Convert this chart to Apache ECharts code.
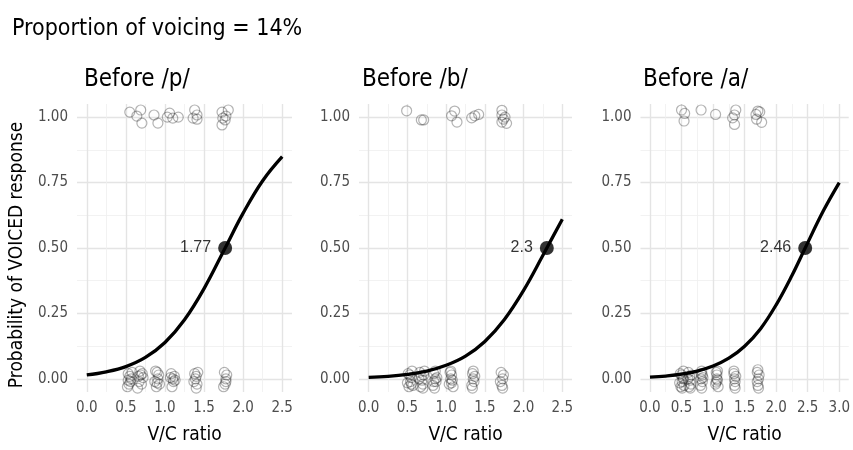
<!DOCTYPE html>
<html><head><meta charset="utf-8">
<script src="https://cdn.jsdelivr.net/npm/echarts@6/dist/echarts.min.js"></script>
<style>html,body{margin:0;padding:0;background:#fff}#c{width:853px;height:450px}</style>
</head><body><div id="c"></div>
<script>
const mainTitle = 'Proportion of voicing = 14%';
const panelTitles = ['Before /p/', 'Before /b/', 'Before /a/'];
const xAxisTitle = 'V/C ratio';
const yAxisTitle = 'Probability of VOICED response';
const xMax = [2.5, 2.5, 3.0];
const yTicks = [0, 0.25, 0.5, 0.75, 1];

const curveP = [[0,0.015],[0.25,0.027],[0.5,0.047],[0.75,0.082],[1.0,0.139],[1.25,0.226],[1.5,0.345],[1.77,0.5],[2.0,0.633],[2.25,0.757],[2.5,0.849]];
const curveB = [[0,0.006],[0.25,0.010],[0.5,0.0175],[0.75,0.030],[1.0,0.052],[1.25,0.087],[1.5,0.143],[1.75,0.226],[2.0,0.338],[2.25,0.472],[2.3,0.5],[2.5,0.61]];
const curveA = [[0,0.0068],[0.25,0.011],[0.5,0.018],[0.75,0.030],[1.0,0.049],[1.25,0.079],[1.5,0.125],[1.75,0.191],[2.0,0.283],[2.25,0.395],[2.46,0.5],[2.75,0.643],[3.0,0.75]];

const midP = [1.77, 0.5];
const midB = [2.3, 0.5];
const midA = [2.46, 0.5];

const pointsP = [
 [0.55,1.019],[0.69,1.027],[0.705,0.977],[0.64,1.004],[0.86,1.008],[0.91,0.977],[1.06,1.015],[1.10,0.996],[1.17,1.0],[1.03,1.0],
 [1.38,1.027],[1.41,1.008],[1.41,0.992],[1.36,0.996],[1.73,1.019],[1.81,1.027],[1.74,0.996],[1.73,0.970],[1.77,0.989],[1.78,1.004],
 [0.53,0.02],[0.56,-0.01],[0.58,0.025],[0.52,-0.03],[0.57,0.0],[0.54,-0.02],[0.55,0.01],[0.53,-0.005],
 [0.66,0.01],[0.70,-0.02],[0.68,0.03],[0.72,0.005],[0.65,-0.035],[0.71,0.02],[0.67,-0.01],[0.69,0.015],
 [0.88,0.03],[0.91,0.0],[0.93,-0.02],[0.89,-0.03],[0.92,0.015],[0.87,-0.01],[0.90,0.025],[0.90,-0.015],
 [1.08,0.02],[1.11,-0.01],[1.12,0.01],[1.09,-0.03],[1.13,-0.005],[1.07,0.005],[1.10,0.0],
 [1.38,0.02],[1.41,-0.02],[1.39,0.0],[1.42,0.025],[1.40,-0.035],[1.37,-0.01],[1.40,0.01],
 [1.76,0.025],[1.78,0.0],[1.77,-0.02],[1.79,0.015],[1.75,-0.03],[1.78,-0.01]
];
const pointsB = [
 [0.49,1.024],[0.68,0.989],[0.71,0.989],[1.07,1.005],[1.11,1.023],[1.14,0.981],[1.33,0.997],[1.37,1.005],[1.42,1.01],
 [1.72,1.026],[1.72,1.008],[1.74,0.992],[1.72,0.981],[1.78,0.976],[1.76,1.0],
 [0.51,0.02],[0.54,-0.01],[0.56,0.03],[0.52,-0.03],[0.55,0.005],[0.50,-0.015],[0.57,-0.025],[0.53,0.015],[0.55,-0.02],
 [0.66,0.025],[0.69,-0.005],[0.71,0.015],[0.67,-0.03],[0.70,-0.02],[0.65,0.0],[0.72,0.03],[0.68,0.01],[0.70,-0.035],
 [0.84,0.02],[0.87,-0.01],[0.86,0.03],[0.83,-0.025],[0.88,0.005],[0.85,-0.035],[0.86,0.0],[0.84,-0.01],
 [1.05,0.025],[1.08,-0.005],[1.07,0.015],[1.04,-0.02],[1.09,-0.03],[1.06,0.0],[1.07,-0.015],[1.06,0.03],
 [1.34,0.02],[1.36,-0.01],[1.33,-0.025],[1.37,0.01],[1.35,0.03],[1.35,0.0],[1.34,-0.035],
 [1.71,0.025],[1.73,0.0],[1.72,-0.025],[1.74,0.015],[1.70,-0.01],[1.73,-0.035]
];
const pointsA = [
 [0.50,1.027],[0.55,1.014],[0.54,0.985],[0.81,1.027],[1.04,1.01],[1.36,1.027],[1.34,1.008],[1.31,0.997],[1.34,0.972],
 [1.71,1.023],[1.68,1.01],[1.74,1.02],[1.69,0.992],[1.77,0.98],
 [0.48,0.02],[0.51,-0.01],[0.53,0.03],[0.49,-0.03],[0.52,0.005],[0.47,-0.015],[0.54,-0.025],[0.50,0.015],[0.51,-0.035],[0.53,0.0],
 [0.61,0.025],[0.64,-0.005],[0.66,0.015],[0.62,-0.03],[0.65,-0.02],[0.60,0.0],[0.63,0.01],[0.64,-0.035],
 [0.81,0.02],[0.83,-0.01],[0.82,0.03],[0.80,-0.025],[0.84,0.005],[0.82,-0.035],[0.81,0.0],[0.83,0.015],
 [1.05,0.025],[1.07,-0.005],[1.06,0.015],[1.04,-0.02],[1.08,-0.03],[1.06,0.0],[1.05,-0.012],[1.07,0.03],
 [1.33,0.02],[1.35,-0.01],[1.34,-0.025],[1.36,0.01],[1.33,0.03],[1.34,0.0],[1.35,-0.035],
 [1.70,0.025],[1.72,0.0],[1.71,-0.025],[1.73,0.015],[1.70,-0.01],[1.72,-0.035],[1.71,0.035]
];

const curves = [curveP, curveB, curveA];
const mids = [midP, midB, midA];
const points = [pointsP, pointsB, pointsA];

const FONT = '"DejaVu Sans Condensed","Liberation Sans Narrow","Open Sans",sans-serif';
const MAJ = '#e4e4e4', MIN = '#efefef', NONE = 'rgba(0,0,0,0)';

const grids = [
  {left: 77, top: 104, width: 215, height: 290},
  {left: 359, top: 104, width: 213, height: 290},
  {left: 640.5, top: 104, width: 209, height: 290}
];

function cyc(min, step, majorStep, minorStep, which) {
  const period = Math.round(majorStep / step);
  const off = ((Math.round(-min / step) % period) + period) % period;
  const arr = [];
  for (let i = 0; i < period; i++) {
    const r = ((i - off) % period + period) % period;
    if (which === 'major') arr.push(r === 0 ? MAJ : NONE);
    else arr.push(r === Math.round(minorStep / step) ? MIN : NONE);
  }
  return arr;
}

const xAxes = [], yAxes = [], series = [];
for (let i = 0; i < 3; i++) {
  const xm = xMax[i];
  const pad = xm * 0.05;
  const xmin = -pad, xmaxv = xm + pad;
  const xstep = i === 2 ? 0.05 : 0.125;
  const ymin = -0.05, ymax = 1.05, ystep = 0.025;
  xAxes.push({
    gridIndex: i, type: 'value', min: xmin, max: xmaxv, interval: xstep,
    name: xAxisTitle, nameLocation: 'middle', nameGap: 34,
    nameTextStyle: {fontFamily: FONT, fontSize: 19, color: '#000'},
    axisLine: {show: false}, axisTick: {show: false},
    axisLabel: {
      fontFamily: FONT, fontSize: 15, color: '#4d4d4d', margin: 9,
      showMinLabel: true, showMaxLabel: true,
      formatter: v => {
        const k = v / 0.5;
        return (Math.abs(k - Math.round(k)) < 1e-6 && v > -1e-6 && v < xm + 1e-6) ? (Math.round(k) * 0.5).toFixed(1) : '';
      }
    },
    splitLine: {show: true, lineStyle: {color: cyc(xmin, xstep, 0.5, 0.25, 'major'), width: 1.4}}
  });
  xAxes.push({
    gridIndex: i, type: 'value', min: xmin, max: xmaxv, interval: xstep, position: 'bottom',
    axisLine: {show: false}, axisTick: {show: false}, axisLabel: {show: false},
    splitLine: {show: true, lineStyle: {color: cyc(xmin, xstep, 0.5, 0.25, 'minor'), width: 0.8}}
  });
  yAxes.push({
    gridIndex: i, type: 'value', min: ymin, max: ymax, interval: ystep,
    name: i === 0 ? yAxisTitle : '', nameLocation: 'middle', nameGap: 50,
    nameTextStyle: {fontFamily: FONT, fontSize: 19, color: '#000', padding: [0, 14, 0, 0]},
    axisLine: {show: false}, axisTick: {show: false},
    axisLabel: {
      fontFamily: FONT, fontSize: 15, color: '#4d4d4d', margin: 9,
      formatter: v => {
        for (const t of yTicks) if (Math.abs(v - t) < 1e-6) return t.toFixed(2);
        return '';
      }
    },
    splitLine: {show: true, lineStyle: {color: cyc(ymin, ystep, 0.25, 0.125, 'major'), width: 1.4}}
  });
  yAxes.push({
    gridIndex: i, type: 'value', min: ymin, max: ymax, interval: ystep, position: 'left',
    axisLine: {show: false}, axisTick: {show: false}, axisLabel: {show: false},
    splitLine: {show: true, lineStyle: {color: cyc(ymin, ystep, 0.25, 0.125, 'minor'), width: 0.8}}
  });
  const xi = i * 2, yi = i * 2;
  series.push({
    type: 'scatter', xAxisIndex: xi, yAxisIndex: yi, data: points[i],
    symbol: 'circle', symbolSize: 10, clip: false,
    itemStyle: {color: 'rgba(0,0,0,0)', borderColor: 'rgba(30,30,30,0.42)', borderWidth: 1.2},
    emphasis: {disabled: true}, z: 2
  });
  series.push({
    type: 'line', xAxisIndex: xi, yAxisIndex: yi, data: curves[i], smooth: 0.4,
    showSymbol: false, lineStyle: {color: '#000', width: 3.3}, z: 3
  });
  series.push({
    type: 'scatter', xAxisIndex: xi, yAxisIndex: yi, data: [mids[i]],
    symbol: 'circle', symbolSize: 14, itemStyle: {color: '#000'}, z: 4,
    label: {show: true, position: 'left', distance: 7, formatter: String(mids[i][0]),
      fontFamily: '"Liberation Sans",Arial,sans-serif', fontSize: 16, color: '#000'}
  });
}

const titles = [{text: mainTitle, left: 7, top: 13, textStyle: {fontFamily: FONT, fontSize: 23, fontWeight: 'normal', color: '#000'}}];
const titleX = [79, 357, 638];
for (let i = 0; i < 3; i++) {
  titles.push({text: panelTitles[i], left: titleX[i], top: 63, textStyle: {fontFamily: FONT, fontSize: 24, fontWeight: 'normal', color: '#000'}});
}

const chart = echarts.init(document.getElementById('c'), null, {renderer: 'canvas'});
chart.setOption({
  animation: false,
  backgroundColor: '#fff',
  title: titles,
  grid: grids,
  xAxis: xAxes,
  yAxis: yAxes,
  series: series
});
</script></body></html>
